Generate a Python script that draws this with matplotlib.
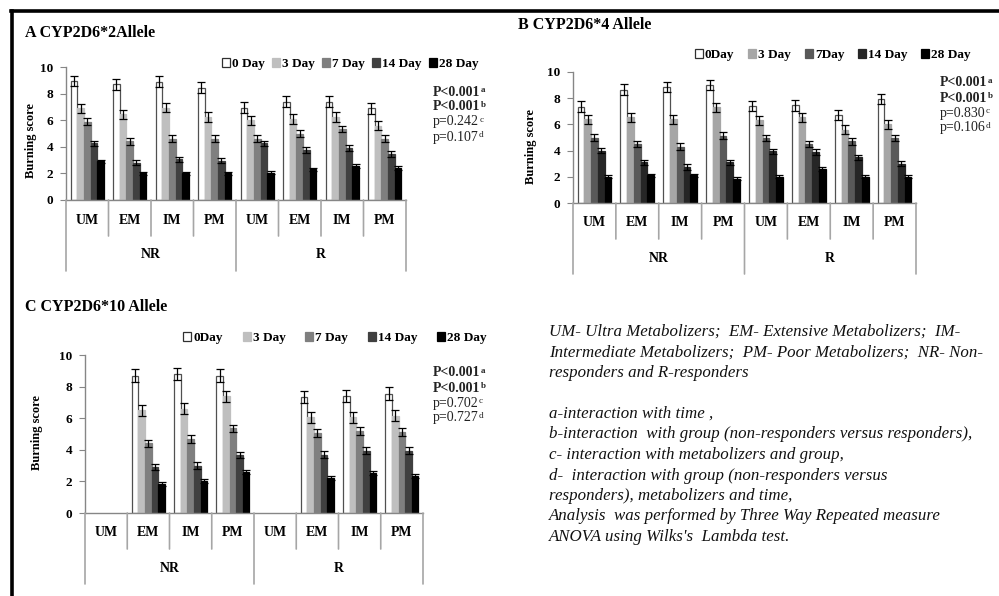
import numpy as np
import matplotlib
matplotlib.use("Agg")
import matplotlib.pyplot as plt
import matplotlib.transforms as mtransforms
from matplotlib.patches import Patch
from matplotlib.lines import Line2D

plt.rcParams['font.family'] = ['Liberation Serif', 'DejaVu Serif']

# ---------------- data ----------------
metabolizers = ['UM', 'EM', 'IM', 'PM']
groups = ['NR', 'R']
days_a = ['0 Day', '3 Day', '7 Day', '14 Day', '28 Day']
days_b = ['0Day', '3 Day', '7Day', '14 Day', '28 Day']
days_c = ['0Day', '3 Day', '7 Day', '14 Day', '28 Day']
yticks = [0, 2, 4, 6, 8, 10]

# CYP2D6*2 (order: NR UM, EM, IM, PM, R UM, EM, IM, PM)
a_day0 = [8.95, 8.7, 8.9, 8.45, 6.95, 7.4, 7.4, 6.9]
a_day3 = [6.9, 6.45, 6.95, 6.25, 6.0, 6.1, 6.25, 5.6]
a_day7 = [5.9, 4.4, 4.6, 4.6, 4.6, 5.0, 5.35, 4.6]
a_day14 = [4.25, 2.8, 3.05, 2.95, 4.25, 3.75, 3.9, 3.45]
a_day28 = [2.9, 2.0, 2.0, 2.0, 2.05, 2.3, 2.55, 2.4]

# CYP2D6*4
b_day0 = [7.35, 8.65, 8.85, 9.0, 7.4, 7.45, 6.7, 7.95]
b_day3 = [6.4, 6.55, 6.4, 7.3, 6.3, 6.55, 5.6, 6.0]
b_day7 = [5.0, 4.5, 4.3, 5.15, 4.95, 4.5, 4.7, 4.95]
b_day14 = [4.0, 3.1, 2.75, 3.1, 3.95, 3.9, 3.5, 3.0]
b_day28 = [2.0, 2.1, 2.1, 1.85, 2.0, 2.6, 2.0, 2.0]

# CYP2D6*10 (no UM subjects)
c_day0 = [np.nan, 8.7, 8.8, 8.7, np.nan, 7.35, 7.4, 7.55]
c_day3 = [np.nan, 6.5, 6.6, 7.4, np.nan, 6.05, 6.05, 6.15]
c_day7 = [np.nan, 4.4, 4.7, 5.35, np.nan, 5.05, 5.2, 5.1]
c_day14 = [np.nan, 2.9, 3.0, 3.65, np.nan, 3.7, 3.95, 3.95]
c_day28 = [np.nan, 1.85, 2.05, 2.6, np.nan, 2.2, 2.55, 2.35]

# standard errors per time point
day_err = [0.4, 0.35, 0.25, 0.2, 0.12]

pvals_a = ['P<0.001', 'P<0.001', 'p=0.242', 'p=0.107']
pvals_b = ['P<0.001', 'P<0.001', 'p=0.830', 'p=0.106']
pvals_c = ['P<0.001', 'P<0.001', 'p=0.702', 'p=0.727']
sup = ['a', 'b', 'c', 'd']

bar_colors = ['#ffffff', '#bfbfbf', '#7f7f7f', '#404040', '#000000']
bar_colors_b = ['#ffffff', '#a6a6a6', '#595959', '#262626', '#000000']

notes = [
    "UM- Ultra Metabolizers;  EM- Extensive Metabolizers;  IM-",
    "Intermediate Metabolizers;  PM- Poor Metabolizers;  NR- Non-",
    "responders and R-responders",
    "",
    "a-interaction with time ,",
    "b-interaction  with group (non-responders versus responders),",
    "c- interaction with metabolizers and group,",
    "d-  interaction with group (non-responders versus",
    "responders), metabolizers and time,",
    "Analysis  was performed by Three Way Repeated measure",
    "ANOVA using Wilks's  Lambda test.",
]

# ---------------- figure ----------------
W, H = 999, 596
fig = plt.figure(figsize=(W / 100, H / 100), dpi=100)
fig.patch.set_facecolor('white')


def fx(x):
    return x / W


def fy(y):
    return 1 - y / H


def make_panel(rect_px, series, labels, colors, title, title_xy, ylab_xy,
               leg_xy, leg_spacing, pv, pv_xy):
    l, t, r, b = rect_px
    ax = fig.add_axes([fx(l), fy(b), fx(r) - fx(l), (b - t) / H])
    ncat = len(groups) * len(metabolizers)
    x = np.arange(ncat)
    w = 0.157
    for i, vals in enumerate(series):
        vals = np.asarray(vals, dtype=float)
        ax.bar(x + (i - 2) * w, vals, width=w, color=colors[i],
               edgecolor='#505050' if i == 0 else colors[i], linewidth=0.9,
               zorder=2)
        ax.errorbar(x + (i - 2) * w, vals, yerr=day_err[i], fmt='none',
                    ecolor='black', elinewidth=0.9, capsize=3,
                    capthick=0.9, zorder=3)
    ax.set_xlim(-0.5, ncat - 0.5)
    ax.set_ylim(0, 10)
    ax.set_yticks(yticks)
    ax.set_yticklabels([str(v) for v in yticks], fontweight='bold',
                       fontsize=9.5)
    ax.tick_params(axis='y', direction='out', length=4, color='#868686',
                   pad=5)
    ax.set_xticks([])
    for s in ['top', 'right']:
        ax.spines[s].set_visible(False)
    for s in ['left', 'bottom']:
        ax.spines[s].set_color('#868686')
        ax.spines[s].set_linewidth(1.0)

    # two-level category axis below the plot
    def off(dy):
        return ax.get_xaxis_transform() + mtransforms.ScaledTranslation(
            0, -dy / 100, fig.dpi_scale_trans)

    for k in range(ncat + 1):
        depth = 71 if k % len(metabolizers) == 0 else 36
        xb = k - 0.5
        ax.annotate('', xy=(xb, 0), xycoords=off(depth),
                    xytext=(xb, 0), textcoords=ax.get_xaxis_transform(),
                    arrowprops=dict(arrowstyle='-', color='#a6a6a6', lw=1.2,
                                    shrinkA=0, shrinkB=0))
    for k in range(ncat):
        ax.text(k, 0, metabolizers[k % len(metabolizers)], transform=off(20),
                ha='center', va='center', fontweight='bold', fontsize=10)
    for g, name in enumerate(groups):
        cx = g * len(metabolizers) + (len(metabolizers) - 1) / 2
        ax.text(cx, 0, name, transform=off(55), ha='center', va='center',
                fontweight='bold', fontsize=10)

    fig.text(fx(title_xy[0]), fy(title_xy[1]), title, ha='left',
             va='center', fontweight='bold', fontsize=11.5)
    fig.text(fx(ylab_xy[0]), fy(ylab_xy[1]), 'Burning score', rotation=90,
             ha='center', va='center', fontweight='bold', fontsize=9)

    handles = [Patch(facecolor=colors[i],
                     edgecolor='#303030' if i == 0 else colors[i], lw=0.9)
               for i in range(len(labels))]
    fig.legend(handles, labels, loc='center',
               bbox_to_anchor=(fx(leg_xy[0]), fy(leg_xy[1])), ncol=5,
               frameon=False, handlelength=0.6, handleheight=0.6,
               handletextpad=0.15, columnspacing=leg_spacing,
               prop=dict(weight='bold', size=9.5))

    # significance values with superscript letters
    for j, p in enumerate(pv):
        fw = 'bold' if j < 2 else 'normal'
        txt = fig.text(fx(pv_xy[0]), fy(pv_xy[1] + j * 15), p, ha='left',
                       va='center', fontweight=fw, fontsize=10,
                       color='#222222')
        ax.annotate(sup[j], xy=(1.0, 0.95), xycoords=txt, ha='left',
                    va='top', fontsize=6.5, fontweight=fw, color='#222222',
                    xytext=(0.2, 0), textcoords='offset points')
    return ax


make_panel((66, 67, 406, 200), [a_day0, a_day3, a_day7, a_day14, a_day28],
           days_a, bar_colors, 'A CYP2D6*2Allele', (25, 33), (31, 141),
           (350, 64), 0.55, pvals_a, (433, 92))
make_panel((573, 72, 916, 203), [b_day0, b_day3, b_day7, b_day14, b_day28],
           days_b, bar_colors_b, 'B CYP2D6*4 Allele', (518, 25), (531, 147),
           (833, 55), 1.05, pvals_b, (940, 83))
make_panel((85, 355, 423, 513), [c_day0, c_day3, c_day7, c_day14, c_day28],
           days_c, bar_colors, 'C CYP2D6*10 Allele', (25, 307), (37, 433),
           (335, 338), 1.5, pvals_c, (433, 373))

# explanatory notes
for i, line in enumerate(notes):
    fig.text(fx(549), fy(332 + i * 20.5), line, ha='left', va='center',
             fontstyle='italic', fontsize=12.2, color='#111111')

# frame lines along the top and left edges
fig.add_artist(Line2D([fx(11.5), fx(11.5)], [0, fy(11)],
                      transform=fig.transFigure, color='black', lw=2.6))
fig.add_artist(Line2D([fx(10.5), 1], [fy(11), fy(11)],
                      transform=fig.transFigure, color='black', lw=2.6))

fig.savefig('out.png', dpi=100, facecolor='white')
